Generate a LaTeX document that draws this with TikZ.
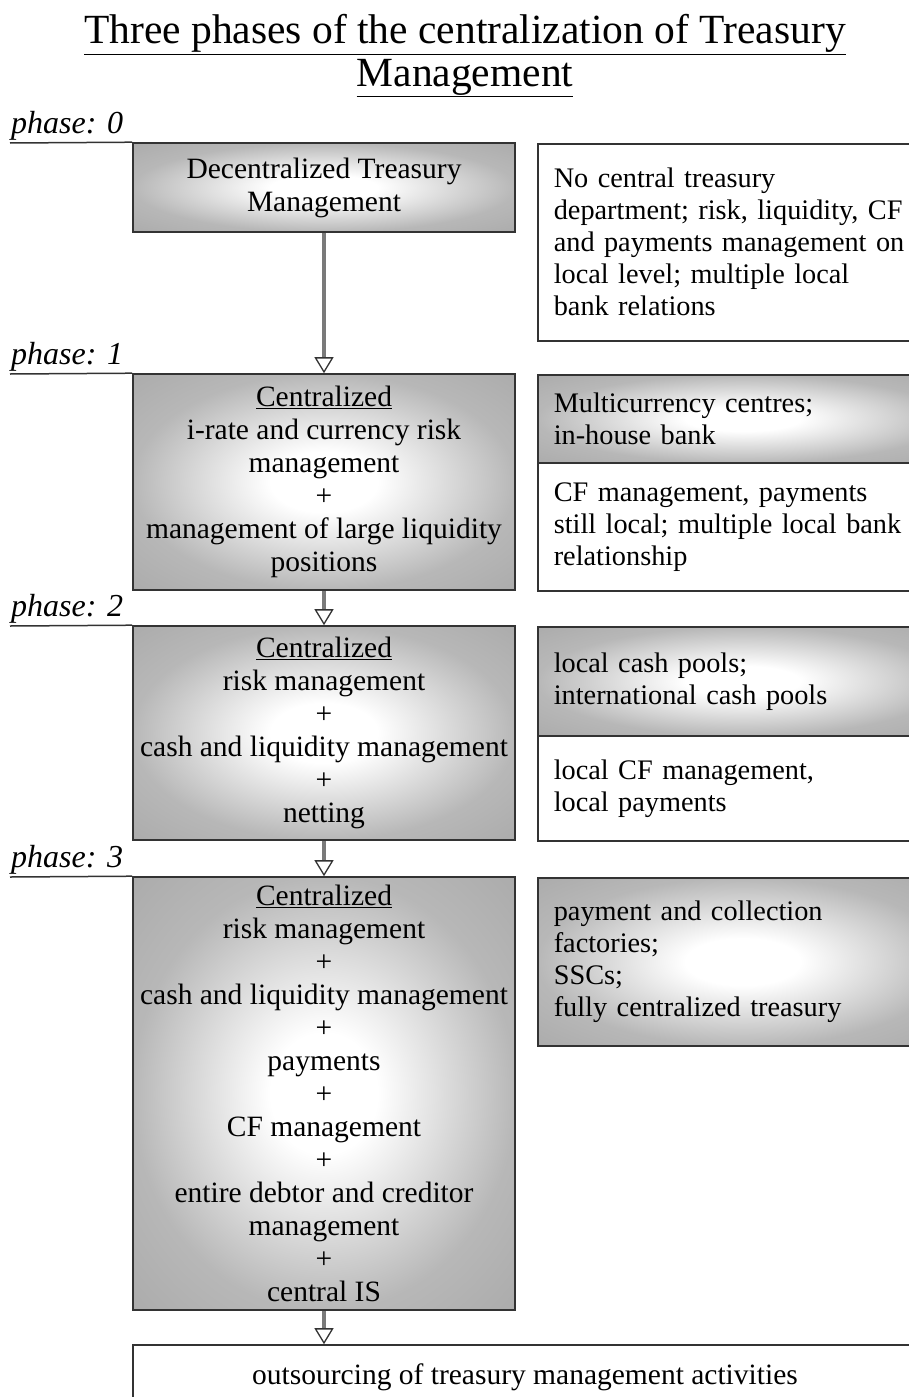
\documentclass[tikz,border=0pt]{standalone}
\usepackage{fontspec}
\setmainfont{Liberation Serif}
\usetikzlibrary{arrows.meta}
\definecolor{edgegray}{gray}{0.72}
\definecolor{cornergray}{gray}{0.67}
\definecolor{bord}{gray}{0.2}
\definecolor{arrgray}{gray}{0.48}
\pgfdeclareradialshading{boxshade}{\pgfpoint{0bp}{0bp}}{color(0bp)=(white); color(7bp)=(white); color(25bp)=(edgegray); color(36bp)=(cornergray); color(50bp)=(cornergray)}
\newcommand\myBody{\fontsize{29.5}{33}\selectfont}
\newcommand\myRight{\fontsize{28.3}{32}\selectfont}
\newcommand\myTitle{\fontsize{41.5}{44}\selectfont}
\newcommand\myPhase{\fontsize{32}{33}\selectfont\itshape}
\tikzset{
  lbox/.style={draw=bord, line width=1.6pt, shading=boxshade, minimum width=382pt, align=center, inner sep=0pt, font=\myBody},
  rgrad/.style={draw=bord, line width=1.6pt, shading=boxshade, anchor=north west, align=left, text width=378pt, inner xsep=16pt, inner ysep=0pt, font=\myRight},
  rwhite/.style={draw=bord, line width=1.6pt, fill=white, anchor=north west, align=left, text width=378pt, inner xsep=16pt, inner ysep=0pt, font=\myRight},
  phaselab/.style={anchor=south west, inner xsep=1pt, inner ysep=2pt, font=\myPhase},
  ulinestyle/.style={draw=bord, line width=1.5pt},
  arr/.style={draw=arrgray, line width=4pt, -{Triangle[fill=white, color=bord, line width=1.3pt, length=16pt, width=19pt]}},
  titlefont/.style={font=\myTitle, inner sep=0pt}
}
\begin{document}
\begin{tikzpicture}[x=1pt,y=-1pt]
\useasboundingbox (0,0) rectangle (909,1397);
\clip (0,0) rectangle (909,1397);
% title
\node[titlefont, anchor=base] (t1) at (465,44) {\underline{Three phases of the centralization of Treasury}};
\node[titlefont, anchor=base] (t2) at (465,86) {\underline{Management}};
% left boxes
\node[lbox, minimum height=89pt] (p0) at (324,187.5) {Decentralized Treasury\\Management};
\node[lbox, minimum height=216pt] (p1) at (324,482) {\underline{Centralized}\\i-rate and currency risk\\management\\+\\management of large liquidity\\positions};
\node[lbox, minimum height=214pt] (p2) at (324,733) {\underline{Centralized}\\risk management\\+\\cash and liquidity management\\+\\netting};
\node[lbox, minimum height=433pt] (p3) at (324,1093.5) {\underline{Centralized}\\risk management\\+\\cash and liquidity management\\+\\payments\\+\\CF management\\+\\entire debtor and creditor\\management\\+\\central IS};
\node[draw=bord, line width=1.6pt, fill=white, minimum width=784pt, minimum height=65pt, font=\myBody, inner sep=0pt] (out) at (525,1377.5) {outsourcing of treasury management activities};
% right boxes
\node[rwhite, minimum height=197pt] (r0) at (537,143) {No central treasury\\department; risk, liquidity, CF\\and payments management on\\local level; multiple local\\bank relations};
\node[rgrad, minimum height=88pt] (r1a) at (537,374) {Multicurrency centres;\\in-house bank};
\node[rwhite, minimum height=128pt] (r1b) at (537,462) {CF management, payments\\still local; multiple local bank\\relationship};
\node[rgrad, minimum height=109pt] (r2a) at (537,626) {local cash pools;\\international cash pools};
\node[rwhite, minimum height=105pt] (r2b) at (537,735) {local CF management,\\local payments};
\node[rgrad, minimum height=168pt] (r3) at (537,877) {payment and collection\\factories;\\SSCs;\\fully centralized treasury};
% phase labels
\node[phaselab] (l0) at (10,143) {phase: 0};
\node[phaselab] (l1) at (10,374) {phase: 1};
\node[phaselab] (l2) at (10,626) {phase: 2};
\node[phaselab] (l3) at (10,877) {phase: 3};
\draw[ulinestyle] (l0.south west) -- (p0.north west);
\draw[ulinestyle] (l1.south west) -- (p1.north west);
\draw[ulinestyle] (l2.south west) -- (p2.north west);
\draw[ulinestyle] (l3.south west) -- (p3.north west);
% arrows
\draw[arr] (p0.south) -- (p1.north);
\draw[arr] (p1.south) -- (p2.north);
\draw[arr] (p2.south) -- (p3.north);
\draw[arr] (p3.south) -- (p3.south |- out.north);
\end{tikzpicture}
\end{document}
